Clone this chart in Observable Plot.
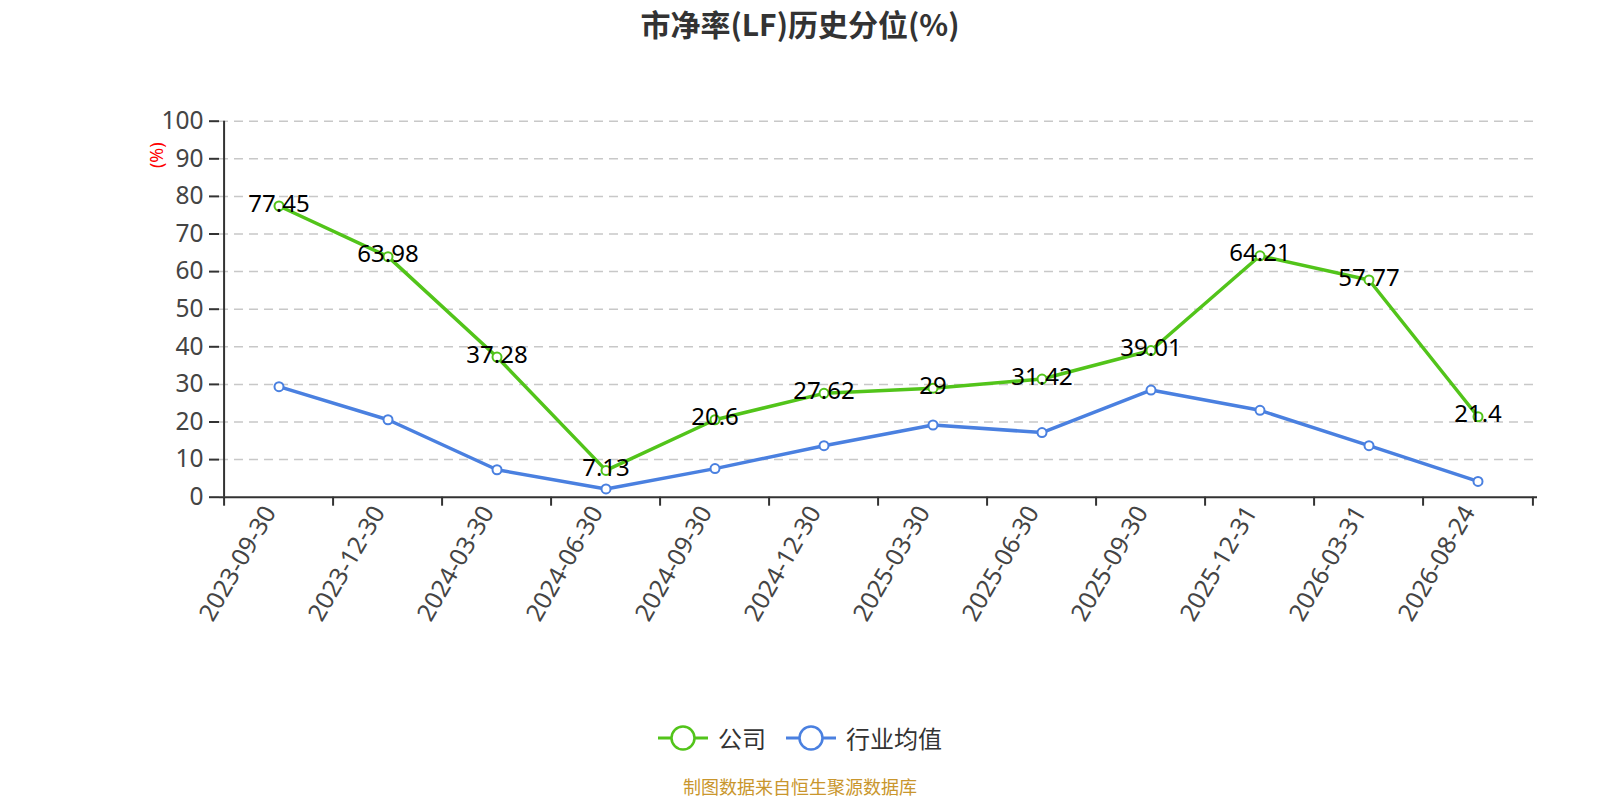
<!DOCTYPE html>
<html>
<head>
<meta charset="utf-8">
<script src="https://cdn.jsdelivr.net/npm/d3@7"></script>
<script src="https://cdn.jsdelivr.net/npm/@observablehq/plot@0.6"></script>
<style>
  html, body { margin: 0; padding: 0; background: #fff; }
  body { font-family: "Noto Sans", "Noto Sans CJK SC", sans-serif; }
  #wrap { position: relative; width: 1600px; height: 800px; overflow: hidden; }
  #title { position: absolute; top: 3px; left: 0; width: 1600px; text-align: center;
    font-family: "Noto Sans CJK SC", sans-serif; font-weight: bold; font-size: 30px; color: #333; line-height: 40px; }
  #chart { position: absolute; top: 0; left: 0; }
  #legend { position: absolute; top: 720px; left: 0; width: 1600px; display: flex; justify-content: center;
    align-items: center; font-family: "Noto Sans CJK SC", sans-serif; font-size: 24px; color: #333; }
  .item { display: flex; align-items: center; margin: 0 10px; }
  .item svg { margin-right: 10px; }
  #footer { position: absolute; top: 775px; left: 0; width: 1600px; text-align: center;
    font-family: "Noto Sans CJK SC", sans-serif; font-size: 18px; color: #c9962d; line-height: 22px; }
</style>
</head>
<body>
<div id="wrap">
  <div id="chart"></div>
  <div id="title">市净率(LF)历史分位(%)</div>
  <div id="legend"></div>
  <div id="footer">制图数据来自恒生聚源数据库</div>
</div>
<script>
const dates = ["2023-09-30","2023-12-30","2024-03-30","2024-06-30","2024-09-30","2024-12-30","2025-03-30","2025-06-30","2025-09-30","2025-12-31","2026-03-31","2026-08-24"];
const companyValues = [77.45, 63.98, 37.28, 7.13, 20.6, 27.62, 29, 31.42, 39.01, 64.21, 57.77, 21.4];
const industryValues = [29.4, 20.6, 7.3, 2.2, 7.6, 13.7, 19.2, 17.2, 28.5, 23.1, 13.7, 4.2];
const yTicks = [0, 10, 20, 30, 40, 50, 60, 70, 80, 90, 100];
const seriesNames = ["公司", "行业均值"];
const seriesColors = ["#52c41a", "#4a80e0"];

const company = dates.map((d, i) => ({date: d, value: companyValues[i]}));
const industry = dates.map((d, i) => ({date: d, value: industryValues[i]}));

const W = 1600, H = 700, mL = 219, mR = 63, mT = 120.7, mB = 203.3;
const bw = (W - mL - mR) / dates.length;
const font = "'Noto Sans', 'Noto Sans CJK SC', sans-serif";

const chart = Plot.plot({
  width: W, height: H,
  marginLeft: mL, marginRight: mR, marginTop: mT, marginBottom: mB,
  style: {fontFamily: font, background: "transparent", overflow: "visible"},
  x: {type: "band", domain: dates, padding: 0},
  y: {domain: [0, 100]},
  marks: [
    Plot.gridY(yTicks.filter(d => d > 0), {stroke: "#c8c8c8", strokeOpacity: 1, strokeWidth: 1.5, strokeDasharray: "9,6"}),
    Plot.axisY(yTicks, {tickSize: 10, tickPadding: 6, fontSize: 24.5, fill: "#444", stroke: "#333", strokeWidth: 2, label: null}),
    Plot.axisX(dates, {tickSize: 9, tickFormat: () => "", dx: -bw / 2, stroke: "#333", strokeWidth: 2, label: null}),
    Plot.axisX([dates[dates.length - 1]], {tickSize: 9, tickFormat: () => "", dx: bw / 2, stroke: "#333", strokeWidth: 2, label: null}),
    Plot.axisX(dates, {tickSize: 0, tickPadding: 11, tickRotate: -60, dx: -9, fontSize: 24.5, fill: "#444", label: null}),
    Plot.ruleY([0], {stroke: "#333", strokeWidth: 2}),
    Plot.ruleX([dates[0]], {y1: 0, y2: 100, dx: -bw / 2, stroke: "#333", strokeWidth: 2}),
    Plot.line(industry, {x: "date", y: "value", stroke: seriesColors[1], strokeWidth: 3.5}),
    Plot.dot(industry, {x: "date", y: "value", r: 4.5, fill: "#fff", stroke: seriesColors[1], strokeWidth: 2}),
    Plot.line(company, {x: "date", y: "value", stroke: seriesColors[0], strokeWidth: 3.5}),
    Plot.dot(company, {x: "date", y: "value", r: 4.5, fill: "#fff", stroke: seriesColors[0], strokeWidth: 2}),
    Plot.text(company, {x: "date", y: "value", text: d => String(d.value), fontSize: 24, fill: "#000", dy: -2, textAnchor: "middle", lineAnchor: "middle"}),
    Plot.text(["(%)"], {frameAnchor: "top-left", text: d => d, dx: -62, dy: 34, rotate: -90, fill: "red", fontSize: 18, textAnchor: "middle", lineAnchor: "middle"})
  ]
});
document.getElementById("chart").appendChild(chart);

const legend = document.getElementById("legend");
seriesNames.forEach((name, i) => {
  const item = document.createElement("div");
  item.className = "item";
  item.innerHTML = `<svg width="50" height="28"><line x1="0" y1="14" x2="50" y2="14" stroke="${seriesColors[i]}" stroke-width="3"/><circle cx="25" cy="14" r="11.5" fill="#fff" stroke="${seriesColors[i]}" stroke-width="2.5"/></svg><span>${name}</span>`;
  legend.appendChild(item);
});
</script>
</body>
</html>
